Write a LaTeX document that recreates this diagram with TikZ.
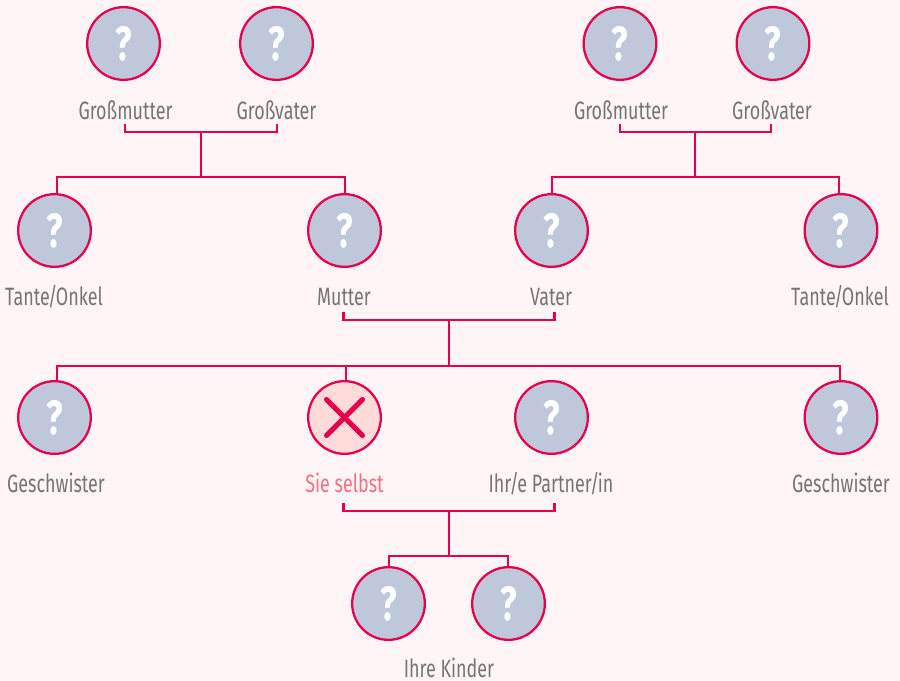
\documentclass[tikz,border=0pt]{standalone}
\usepackage{fontspec}
\setmainfont[FakeStretch=0.715]{Fira Sans}
\definecolor{bgc}{HTML}{FFF5F6}
\definecolor{linec}{HTML}{E6004C}
\definecolor{fillc}{HTML}{BFC8DB}
\definecolor{selfc}{HTML}{FFDBDA}
\definecolor{textc}{HTML}{757575}
\definecolor{pinkc}{HTML}{F47080}
\newcommand{\nslash}{\kern-1.2pt/\kern-1.2pt}
\tikzset{
 x=0.75pt,y=-0.75pt,
 person/.style={circle,draw=linec,line width=1.7pt,fill=fillc,minimum size=54.5pt,inner sep=0pt,text=white,font=\fontsize{36}{36}\selectfont\bfseries},
 selfp/.style={person,fill=selfc},
 lab/.style={text=textc,font=\fontsize{18.8}{20}\selectfont,inner sep=0pt,anchor=base},
 conn/.style={draw=linec,line width=1.7pt},
 xmark/.style={draw=linec,line width=3.8pt,line cap=round}
}
\begin{document}
\begin{tikzpicture}
\fill[bgc] (0,0) rectangle (900,681);
\useasboundingbox (0,0) rectangle (900,681);
% people
\foreach \n/\x/\y in {a/123.5/43.5,b/276.5/43.5,c/620/43.5,d/773/43.5,
 e/54.5/230.5,f/344.5/230.5,g/551.5/230.5,h/841/230.5,
 i/54.5/417.5,k/551.5/417.5,l/841/417.5,m/388.5/603.5,n/508.5/603.5}
 \node[person] (\n) at (\x,\y) {\raisebox{-1pt}{?}};
\node[selfp] (j) at (344.5,417.5) {};
\draw[xmark] (j.center) ++(-18,-18) -- ++(36,36);
\draw[xmark] (j.center) ++(18,-18) -- ++(-36,36);
% labels
\node[lab] (la) at (125.5,120) {Großmutter};
\node[lab] (lb) at (276.5,120) {Großvater};
\node[lab] (lc) at (621,120) {Großmutter};
\node[lab] (ld) at (772,120) {Großvater};
\node[lab] (le) at (54,305) {Tante\nslash Onkel};
\node[lab] (lf) at (344,305) {Mutter};
\node[lab] (lg) at (551,305) {Vater};
\node[lab] (lh) at (840,305) {Tante\nslash Onkel};
\node[lab] (li) at (56,492) {Geschwister};
\node[lab,text=pinkc] (lj) at (344.5,492) {Sie selbst};
\node[lab] (lk) at (551,492) {Ihr\nslash e Partner\nslash in};
\node[lab] (ll) at (841,492) {Geschwister};
\node[lab] (lm) at (449,677.5) {Ihre Kinder};
% coordinates
\foreach \n/\x/\y in {t1/125/124.5,t2/277/124.5,b1/125/132,b2/277/132,j1/201/132,j2/201/177,
 u1/57/177,u2/345/177,
 t3/620/124.5,t4/771/124.5,b3/620/132,b4/771/132,j3/695/132,j4/695/177,
 u3/552/177,u4/839/177,
 t5/343.5/312,t6/554.5/312,b5/343.5/320,b6/554.5/320,j5/449/320,j6/449/366,
 u5/57/366,u6/840/366,u7/346/366,
 t7/343.5/503,t8/554.5/503,b7/343.5/511,b8/554.5/511,j7/449/511,j8/449/556,
 u8/389/556,u9/508/556}
 \coordinate (\n) at (\x,\y);
% connectors
\draw[conn] (t1) -- (b1) -- (b2) -- (t2);
\draw[conn] (j1) -- (j2);
\draw[conn] (e.north -| u1) -- (u1) -- (u2) -- (f.north -| u2);
\draw[conn] (t3) -- (b3) -- (b4) -- (t4);
\draw[conn] (j3) -- (j4);
\draw[conn] (g.north -| u3) -- (u3) -- (u4) -- (h.north -| u4);
\draw[conn] (t5) -- (b5) -- (b6) -- (t6);
\draw[conn] (j5) -- (j6);
\draw[conn] (i.north -| u5) -- (u5) -- (u6) -- (l.north -| u6);
\draw[conn] (u7) -- (j.north -| u7);
\draw[conn] (t7) -- (b7) -- (b8) -- (t8);
\draw[conn] (j7) -- (j8);
\draw[conn] (m.north -| u8) -- (u8) -- (u9) -- (n.north -| u9);
\end{tikzpicture}
\end{document}
